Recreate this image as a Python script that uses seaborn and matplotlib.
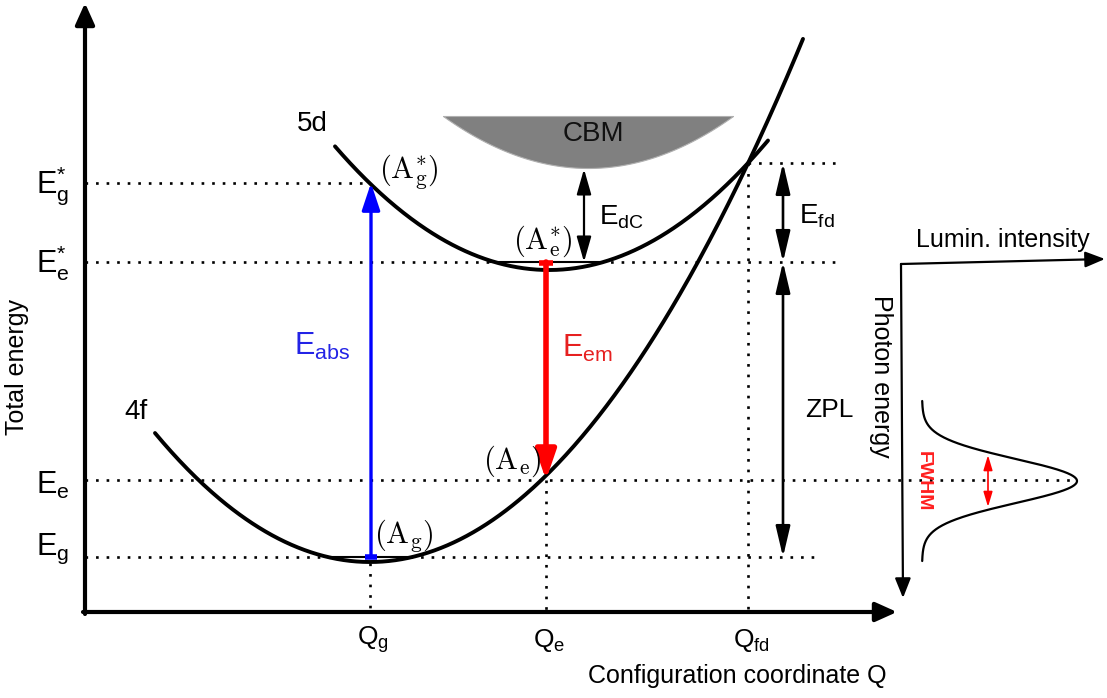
import numpy as np
import pandas as pd
import matplotlib
matplotlib.use("Agg")
import matplotlib.pyplot as plt
import seaborn as sns

# ---------------- data (diagram units, y grows downward) ----------------
Q_POS = [370, 546, 748]                     # Q_g, Q_e, Q_fd
Q_LABELS = [r"$\mathrm{Q}_\mathrm{g}$", r"$\mathrm{Q}_\mathrm{e}$", r"$\mathrm{Q}_\mathrm{fd}$"]
E_LEVELS = [183, 262, 480, 557]              # E_g*, E_e*, E_e, E_g
E_LABELS = [r"$\mathrm{E}_\mathrm{g}^{*}$", r"$\mathrm{E}_\mathrm{e}^{*}$",
            r"$\mathrm{E}_\mathrm{e}$", r"$\mathrm{E}_\mathrm{g}$"]
E_FD = 163                                   # crossing energy
# parabolas: [centre Q, minimum E, curvature, Q start, Q end]
GROUND_4F = [370, 562, 0.00279, 155, 803]
EXCITED_5D = [549, 270, 0.0027, 335, 768]
# conduction band minimum: [centre, top, bottom, half width]
CBM_SHAPE = [588, 116, 168, 145]
# emission band: [baseline, peak, centre energy, sigma, half span]
BAND = [922, 1077, 481, 22, 80]

sns.set_theme(style="white")
plt.rcParams["font.family"] = ["Liberation Sans", "DejaVu Sans"]
plt.rcParams["text.color"] = "black"
plt.rcParams["mathtext.fontset"] = "custom"
plt.rcParams["mathtext.rm"] = "Liberation Sans"
plt.rcParams["mathtext.it"] = "Liberation Sans:italic"
plt.rcParams["mathtext.bf"] = "Liberation Sans:bold"

fig = plt.figure(figsize=(11.07, 6.98), dpi=100)
ax = fig.add_axes([0, 0, 1, 1])

DOT = (0, (1, 3))
DLW = 1.9


def parabola(p, n=400):
    q0, e0, k, a, b = p
    q = np.linspace(a, b, n)
    return pd.DataFrame({"Q": q, "E": e0 - k * (q - q0) ** 2})


def arrow(x0, y0, x1, y1, style, color="black", lw=1.5, ms=12):
    ax.annotate("", xy=(x1, y1), xytext=(x0, y0),
                arrowprops=dict(arrowstyle=style, color=color, lw=lw,
                                mutation_scale=ms, shrinkA=0, shrinkB=0))


# parabolas
sns.lineplot(data=parabola(GROUND_4F), x="Q", y="E", ax=ax, color="black",
             lw=2.8, sort=False, estimator=None)
sns.lineplot(data=parabola(EXCITED_5D), x="Q", y="E", ax=ax, color="black",
             lw=2.8, sort=False, estimator=None)

# emission band
base, peak, cen, sig, span = BAND
yy = np.linspace(cen - span, cen + span, 400)
band = pd.DataFrame({"E": yy, "I": base + (peak - base) * np.exp(-(yy - cen) ** 2 / (2 * sig ** 2))})
sns.lineplot(data=band, x="I", y="E", ax=ax, color="black", lw=1.6, sort=False, estimator=None)

ax.set_xlim(0, 1107)
ax.set_ylim(698, 0)
ax.axis("off")

# main axes
arrow(85, 614, 85, 3, "-|>,head_length=1.0,head_width=0.45", lw=3, ms=13)
arrow(83, 612, 897, 612, "-|>,head_length=1.0,head_width=0.45", lw=3, ms=13)

# CBM
cq0, ctop, cbot, chalf = CBM_SHAPE
cq = np.linspace(cq0 - chalf, cq0 + chalf, 200)
cb = cbot - (cbot - ctop) * ((cq - cq0) / chalf) ** 2
ax.fill_between(cq, ctop, cb, color="#808080", lw=0.8, edgecolor="#b0b0b0", zorder=1)
ax.text(593, 134, "CBM", fontsize=20, ha="center", va="center", color="#111111")

# dotted guide lines
qg, qe, qfd = Q_POS
eg_s, ee_s, ee, eg = E_LEVELS
ax.plot([85, qg], [eg_s, eg_s], color="black", lw=DLW, ls=DOT)
ax.plot([85, 490], [ee_s, ee_s], color="black", lw=DLW, ls=DOT)
ax.plot([600, 838], [ee_s, ee_s], color="black", lw=DLW, ls=DOT)
ax.plot([85, 1077], [ee, ee], color="black", lw=DLW, ls=DOT)
ax.plot([85, 330], [eg, eg], color="black", lw=DLW, ls=DOT)
ax.plot([410, 820], [eg, eg], color="black", lw=DLW, ls=DOT)
ax.plot([qfd, 840], [E_FD, E_FD], color="black", lw=DLW, ls=DOT)
ax.plot([qg, qg], [563, 612], color="black", lw=DLW, ls=DOT)
ax.plot([qe, qe], [ee, 612], color="black", lw=DLW, ls=DOT)
ax.plot([qfd, qfd], [E_FD, 612], color="black", lw=DLW, ls=DOT)

# zero-phonon vibrational levels
ax.plot([490, 600], [ee_s, ee_s], color="black", lw=1.5)
ax.plot([330, 410], [eg, eg], color="black", lw=1.5)

# absorption / emission
arrow(371, eg, 371, eg_s, "-|>,head_length=1.5,head_width=0.5", color="#0000ff", lw=2.4, ms=11)
ax.plot([365, 377], [eg, eg], color="#0000ff", lw=4, solid_capstyle="butt")
arrow(546, ee_s, 546, ee, "-|>,head_length=1.6,head_width=0.55", color="#ff0000", lw=4, ms=11)
ax.plot([539, 553], [ee_s + 1, ee_s + 1], color="#ff0000", lw=4, solid_capstyle="butt")

# energy gaps
arrow(584, 262, 584, 169, "<|-|>,head_length=1.4,head_width=0.4", lw=1.6, ms=11)
arrow(783, E_FD, 783, ee_s, "<|-|>,head_length=1.7,head_width=0.4", lw=1.9, ms=11)
arrow(783, ee_s, 783, eg, "<|-|>,head_length=1.7,head_width=0.4", lw=1.9, ms=11)

# labels
E_LABEL_SHIFT = [3, 1, 5, -8]
for lev, lab, dy in zip(E_LEVELS, E_LABELS, E_LABEL_SHIFT):
    ax.text(36, lev + dy, lab, fontsize=22, ha="left", va="center")
for q, lab in zip(Q_POS, Q_LABELS):
    ax.text(q + 3, 640, lab, fontsize=19, ha="center", va="center")
ax.text(17, 367, "Total energy", fontsize=18, rotation=90, ha="center", va="center")
ax.text(737, 676, "Configuration coordinate Q", fontsize=18, ha="center", va="center")
ax.text(312, 124, "5d", fontsize=20, ha="center", va="center")
ax.text(136, 412, "4f", fontsize=20, ha="center", va="center")
ax.text(409, 172, r"$(\mathrm{A}_\mathrm{g}^{*})$", fontsize=22, ha="center", va="center", math_fontfamily="cm")
ax.text(543, 241, r"$(\mathrm{A}_\mathrm{e}^{*})$", fontsize=22, ha="center", va="center", math_fontfamily="cm")
ax.text(512, 461, r"$(\mathrm{A}_\mathrm{e})$", fontsize=22, ha="center", va="center", math_fontfamily="cm")
ax.text(404, 536, r"$(\mathrm{A}_\mathrm{g})$", fontsize=22, ha="center", va="center", math_fontfamily="cm")
ax.text(322, 346, r"$\mathrm{E}_\mathrm{abs}$", fontsize=22, color="#2323e6", ha="center", va="center")
ax.text(587, 348, r"$\mathrm{E}_\mathrm{em}$", fontsize=22, color="#e62020", ha="center", va="center")
ax.text(621, 217, r"$\mathrm{E}_\mathrm{dC}$", fontsize=20, ha="center", va="center")
ax.text(817, 216, r"$\mathrm{E}_\mathrm{fd}$", fontsize=20, ha="center", va="center")
ax.text(829, 410, "ZPL", fontsize=19, ha="center", va="center")

# luminescence panel
arrow(901, 264, 1105, 259, "-|>,head_length=1.0,head_width=0.4", lw=1.6, ms=12)
arrow(901, 264, 903, 598, "-|>,head_length=1.0,head_width=0.4", lw=1.6, ms=12)
ax.text(1003, 240, "Lumin. intensity", fontsize=18, ha="center", va="center")
ax.text(881, 376, "Photon energy", fontsize=18, rotation=-90, ha="center", va="center")

half = sig * np.sqrt(2 * np.log(2))
arrow(988, cen - half, 988, cen + half, "<|-|>,head_length=1.0,head_width=0.3", color="#ff0000", lw=1.2, ms=9)
ax.text(923, 481, "FWHM", fontsize=14, fontweight="bold", color="#ff2020", rotation=-90, ha="center", va="center")

fig.savefig("out.png", dpi=100)
